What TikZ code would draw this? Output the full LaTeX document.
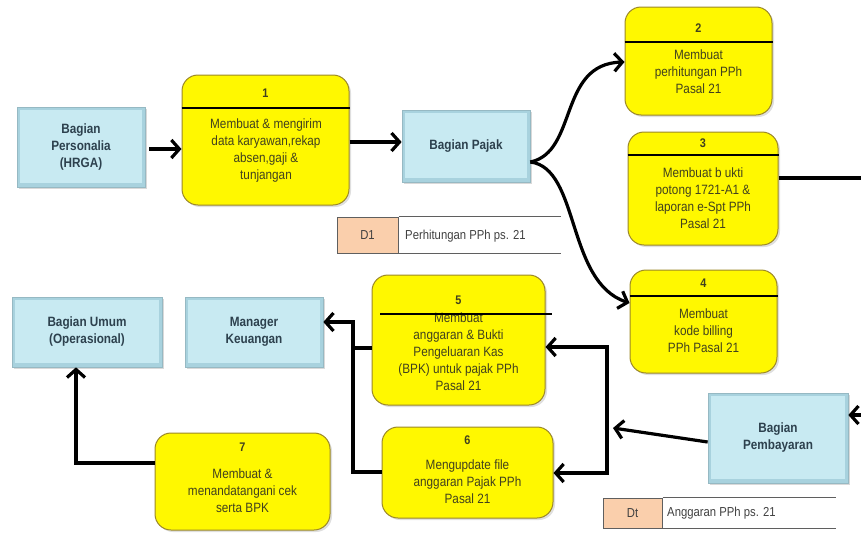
\documentclass[tikz,border=0pt]{standalone}
\usepackage{fontspec}
\setmainfont{Liberation Sans}[FakeStretch=0.87]
\usetikzlibrary{arrows.meta,shadows}
\definecolor{bluefill}{RGB}{168,210,222}
\definecolor{bluein}{RGB}{200,234,242}
\definecolor{blueedge}{RGB}{150,185,195}
\definecolor{bluetext}{RGB}{45,65,78}
\definecolor{yfill}{RGB}{255,248,0}
\definecolor{yedge}{RGB}{155,135,40}
\definecolor{ytext}{RGB}{65,65,30}
\definecolor{peach}{RGB}{250,207,172}
\definecolor{storeline}{RGB}{95,95,95}
\begin{document}
\begin{tikzpicture}[x=1pt,y=-1pt,
  ent/.style={draw=blueedge, fill=bluefill, line width=0.7pt,
    drop shadow={opacity=0.3,shadow xshift=1.5pt,shadow yshift=-1.5pt},
    path picture={\fill[bluein] ([shift={(3pt,-3pt)}]path picture bounding box.north west) rectangle ([shift={(-3pt,4pt)}]path picture bounding box.south east);},
    font=\bfseries\fontsize{13.5}{17}\selectfont, text=bluetext, align=center, inner sep=0pt},
  proc/.style={draw=yedge, fill=yfill, line width=1pt, rounded corners=16pt,
    drop shadow={opacity=0.25,shadow xshift=2pt,shadow yshift=-2pt}, inner sep=0pt},
  num/.style={font=\bfseries\fontsize{12.5}{13}\selectfont, text=ytext, inner sep=0pt},
  ptxt/.style={font=\fontsize{13.5}{17}\selectfont, text=ytext, align=center, inner sep=0pt},
  divline/.style={line width=1.8pt, black},
  arr/.style={line width=3.2pt, line join=miter, -{Straight Barb[length=8pt,width=18pt]}},
  ln/.style={line width=3.2pt, line join=miter},
  sbox/.style={draw=storeline, fill=peach, line width=1pt, font=\fontsize{13}{14}\selectfont, text=black!75, inner sep=0pt},
  sline/.style={draw=storeline, line width=1.2pt},
  stxt/.style={font=\fontsize{13}{14}\selectfont, text=black!75, anchor=west, inner sep=0pt}
]
\useasboundingbox (0,0) rectangle (861,533);

% entities
\node[ent, minimum width=128pt, minimum height=80pt] (hr) at (81,147) {Bagian\\Personalia\\(HRGA)};
\node[ent, minimum width=128pt, minimum height=72pt] (pj) at (466,146) {Bagian Pajak};
\node[ent, minimum width=150pt, minimum height=70pt] (bu) at (87,332) {Bagian Umum\\(Operasional)};
\node[ent, minimum width=138pt, minimum height=70pt] (mk) at (254,332) {Manager\\Keuangan};
\node[ent, minimum width=140pt, minimum height=90pt] (pb) at (778,438) {Bagian\\Pembayaran};

% processes
\node[proc, minimum width=167pt, minimum height=130pt] (p1) at (265.5,140) {};
\node[num] (n1) at (265.5,93) {1};
\draw[divline] (p1.west |- 0,108) -- (p1.east |- 0,108);
\node[ptxt] (t1) at (266,151) {Membuat \& mengirim\\data karyawan,rekap\\absen,gaji \&\\tunjangan};

\node[proc, minimum width=147pt, minimum height=108pt] (p2) at (698.5,61) {};
\node[num] (n2) at (698.5,28) {2};
\draw[divline] (p2.west |- 0,42) -- (p2.east |- 0,42);
\node[ptxt] (t2) at (698.5,72) {Membuat\\perhitungan PPh\\Pasal 21};

\node[proc, minimum width=150pt, minimum height=113pt] (p3) at (703,188.5) {};
\node[num] (n3) at (703,143) {3};
\draw[divline] (p3.west |- 0,155) -- (p3.east |- 0,155);
\node[ptxt] (t3) at (703,198) {Membuat b ukti\\potong 1721-A1 \&\\laporan e-Spt PPh\\Pasal 21};

\node[proc, minimum width=147pt, minimum height=103pt] (p4) at (703.5,321.5) {};
\node[num] (n4) at (703.5,283) {4};
\draw[divline] (p4.west |- 0,296) -- (p4.east |- 0,296);
\node[ptxt] (t4) at (703.5,331) {Membuat\\kode billing\\PPh Pasal 21};

\node[proc, minimum width=173pt, minimum height=130pt] (p5) at (458.5,340) {};
\node[num] (n5) at (458.5,300) {5};
\node[ptxt] (t5) at (458.5,352) {Membuat\\anggaran \& Bukti\\Pengeluaran Kas\\(BPK) untuk pajak PPh\\Pasal 21};
\draw[divline] (380,314) -- (552,314);

\node[proc, minimum width=171pt, minimum height=91pt] (p6) at (467.5,472.5) {};
\node[num] (n6) at (467.5,440) {6};
\node[ptxt] (t6) at (467.5,482) {Mengupdate file\\anggaran Pajak PPh\\Pasal 21};

\node[proc, minimum width=175pt, minimum height=97pt] (p7) at (242.5,481.5) {};
\node[num] (n7) at (242.5,447) {7};
\node[ptxt] (t7) at (242.5,491) {Membuat \&\\menandatangani cek\\serta BPK};

% data stores
\node[sbox, minimum width=61pt, minimum height=36pt] (d1) at (367.5,235) {D1};
\draw[sline] (d1.north east) -- ++(162,0);
\draw[sline] (d1.south east) -- ++(162,0);
\node[stxt] (d1t) at (405,236) {Perhitungan PPh ps. 21};

\node[sbox, minimum width=59pt, minimum height=30pt] (d2) at (632.5,513) {Dt};
\draw[sline] (d2.north east) -- ++(173,0);
\draw[sline] (d2.south east) -- ++(173,0);
\node[stxt] (d2t) at (667,513) {Anggaran PPh ps. 21};

% connectors
\coordinate (r3) at (861,178);
\coordinate (rin) at (861,415);
\coordinate (jp) at (613,428);
\coordinate (bus5) at (607,347);
\coordinate (bus6) at (607,473);
\coordinate (lb5) at (353,348);
\coordinate (lb6) at (353,472);
\coordinate (lbtop) at (353,322);
\coordinate (c7) at (76,463);

\draw[arr] ([xshift=4pt]hr.east |- 0,149) -- (p1.west |- 0,149);
\draw[arr] (p1.east |- 0,142) -- (pj.west |- 0,142);
\draw[arr] (pj.east |- 0,162) .. controls (578,152) and (558,64) .. (p2.west |- 0,62);
\draw[arr] (pj.east |- 0,162) .. controls (580,168) and (566,282) .. (p4.west |- 0,303);
\draw[ln] (p3.east |- r3) -- (r3);
\draw[arr] (rin) -- (pb.east |- rin);
\draw[arr] (pb.west |- 0,442) -- (jp);
\draw[arr] (bus6) -- (bus5) -- (p5.east |- bus5);
\draw[arr] (bus5) -- (bus6) -- (p6.east |- bus6);
\draw[ln] (p5.west |- lb5) -- (lb5);
\draw[arr] (p6.west |- lb6) -- (lb6) -- (lbtop) -- (mk.east |- lbtop);
\draw[arr] (p7.west |- c7) -- (c7) -- (bu.south -| c7);
\end{tikzpicture}
\end{document}
